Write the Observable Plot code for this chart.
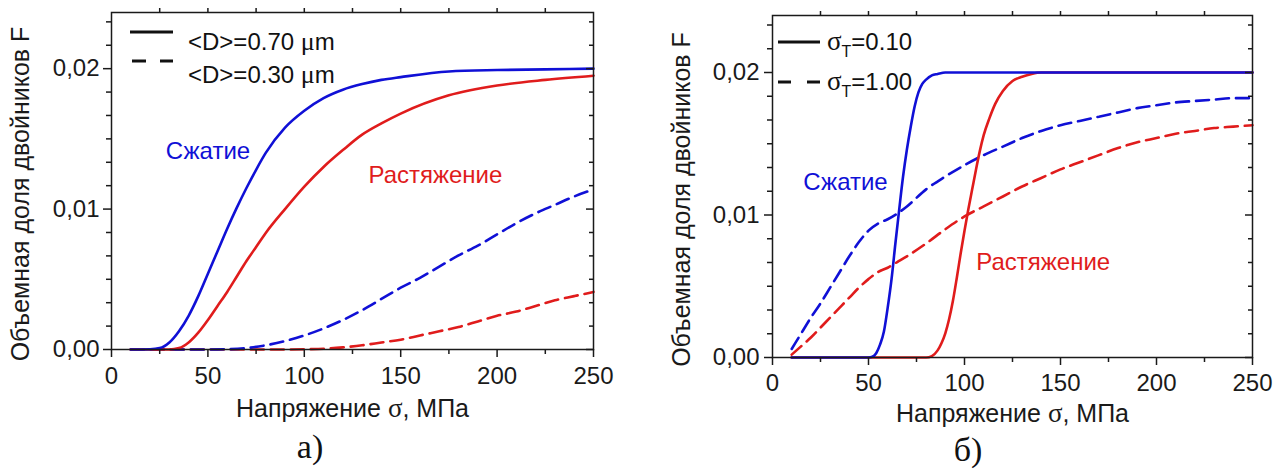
<!DOCTYPE html>
<html><head><meta charset="utf-8">
<script src="https://cdn.jsdelivr.net/npm/d3@7"></script>
<script src="https://cdn.jsdelivr.net/npm/@observablehq/plot@0.6"></script>
<style>
body{margin:0;background:#fff;}
#wrap{position:relative;width:1276px;height:470px;overflow:hidden;background:#fff;}
.panel{position:absolute;top:0;}
.cap{position:absolute;font-family:"Liberation Serif","Times New Roman",serif;font-size:34px;color:#111;transform:translate(-50%,-50%);line-height:1;}
</style></head><body><div id="wrap"></div>
<script>
// ---------- ticks ----------
const xMajor = [0, 50, 100, 150, 200, 250];
const xMinor = [25, 75, 125, 175, 225];
const xTop = [25, 50, 75, 100, 125, 150, 175, 200, 225];
const yMajor = [0, 0.01, 0.02];
const yMinor = [0.001667, 0.003333, 0.005, 0.006667, 0.008333, 0.011667, 0.013333, 0.015, 0.016667, 0.018333, 0.021667, 0.023333];
const xTitleParts = ["Напряжение ", "σ", ", МПа"];
const xTitle = xTitleParts.join("");
const yTitle = "Объемная доля двойников F";
const labelCompression = "Сжатие";
const labelTension = "Растяжение";
const captions = ["а)", "б)"];

// ---------- panel а: <D>=0.70 µm (solid), <D>=0.30 µm (dashed) ----------
const aLegend = ["<D>=0.70 ", "<D>=0.30 "];
const aLegendUnit = "μm";
const aBlueSolidX = [10,20,25,30,35,40,45,50,55,60,65,70,75,80,90,100,110,120,130,140,150,175,200,225,250];
const aBlueSolidY = [0,0.00002,0.0001,0.0005,0.0013,0.0024,0.0038,0.0054,0.0070,0.0086,0.0101,0.0115,0.0128,0.0140,0.0158,0.0170,0.0179,0.0185,0.0189,0.0192,0.0194,0.0198,0.0199,0.01995,0.0200];
const aRedSolidX = [10,30,35,40,45,50,55,60,65,70,75,80,90,100,110,120,130,140,150,175,200,225,250];
const aRedSolidY = [0,0,0.0001,0.0005,0.0012,0.0021,0.0031,0.0041,0.0052,0.0063,0.0073,0.0083,0.0100,0.0116,0.0130,0.0142,0.0153,0.0161,0.0168,0.0181,0.0188,0.0192,0.0195];
const aBlueDashX = [10,50,60,70,80,90,100,110,120,130,140,150,160,170,180,190,200,210,220,230,240,250];
const aBlueDashY = [0,0,0.00002,0.0001,0.0003,0.0006,0.0010,0.0015,0.0021,0.0028,0.0036,0.0044,0.0051,0.0059,0.0067,0.0074,0.0082,0.0090,0.0097,0.0103,0.0109,0.0114];
const aRedDashX = [10,90,100,110,120,130,140,150,160,170,180,190,200,210,220,230,240,250];
const aRedDashY = [0,0,0.00002,0.00005,0.00015,0.0003,0.0005,0.0007,0.0010,0.0013,0.0016,0.0020,0.0024,0.0027,0.0031,0.0035,0.0038,0.0041];
const aAnnotX = [50, 168];
const aAnnotY = [0.01414, 0.01237];

// ---------- panel б: σT=0.10 (solid), σT=1.00 (dashed) ----------
const bLegendVals = ["=0.10", "=1.00"];
const bBlueSolidX = [10,50,52,54,56,58,60,62,64,66,68,70,72,74,76,78,80,83,86,90,150,250];
const bBlueSolidY = [0,0,0.00005,0.0003,0.0009,0.0018,0.0035,0.0055,0.0080,0.0104,0.0127,0.0146,0.0162,0.0176,0.0186,0.0192,0.0195,0.0198,0.0199,0.0200,0.0200,0.0200];
const bRedSolidX = [10,80,83,86,88,90,92,94,96,98,100,102,104,106,108,110,113,116,120,125,130,135,140,200,250];
const bRedSolidY = [0,0,0.0001,0.0005,0.0010,0.0017,0.0027,0.0040,0.0056,0.0073,0.0089,0.0104,0.0118,0.0132,0.0145,0.0156,0.0168,0.0178,0.0187,0.0194,0.0197,0.0199,0.0200,0.0200,0.0200];
const bBlueDashX = [10,15,20,25,30,35,40,45,50,55,60,65,70,80,90,100,110,120,130,140,150,160,170,180,190,200,210,220,230,240,250];
const bBlueDashY = [0.0006,0.0017,0.0028,0.0038,0.0049,0.0060,0.0071,0.0081,0.0089,0.0094,0.0097,0.0101,0.0106,0.0118,0.0127,0.0135,0.0142,0.0148,0.0154,0.0159,0.0163,0.0166,0.0169,0.0172,0.0175,0.0177,0.0179,0.0180,0.0181,0.0182,0.0182];
const bRedDashX = [10,15,20,25,30,35,40,45,50,55,60,65,70,80,90,100,110,120,130,140,150,160,170,180,190,200,210,220,230,240,250];
const bRedDashY = [0.0002,0.0008,0.0014,0.0021,0.0028,0.0035,0.0042,0.0049,0.0055,0.0060,0.0063,0.0067,0.0071,0.0080,0.0090,0.0099,0.0106,0.0113,0.0120,0.0126,0.0132,0.0137,0.0142,0.0147,0.0151,0.0154,0.0157,0.0159,0.0161,0.0162,0.0163];
const bAnnotX = [38, 141];
const bAnnotY = [0.0123, 0.0067];

const BLUE = "#1010d6", RED = "#e01c1c", INK = "#1a1a1a";
const FONT = "Liberation Sans, Arial, sans-serif";
const SERIF = "Liberation Serif, serif";
const DASH = "13,7";

const pts = (xs, ys) => xs.map((x, i) => ({x, y: ys[i]}));
const fmtY = d => d.toFixed(2).replace(".", ",");
const blank = () => "";

function makePanel(cfg) {
  const lines = [
    {d: pts(cfg.redDashX, cfg.redDashY), c: RED, dash: DASH},
    {d: pts(cfg.blueDashX, cfg.blueDashY), c: BLUE, dash: DASH},
    {d: pts(cfg.redSolidX, cfg.redSolidY), c: RED, dash: null},
    {d: pts(cfg.blueSolidX, cfg.blueSolidY), c: BLUE, dash: null}
  ];
  const annot = [
    {x: cfg.annotX[0], y: cfg.annotY[0], t: labelCompression, c: BLUE},
    {x: cfg.annotX[1], y: cfg.annotY[1], t: labelTension, c: RED}
  ];
  const m = cfg.m;
  const svg = Plot.plot({
    width: cfg.width, height: 420,
    marginLeft: m[0], marginRight: m[1], marginTop: m[2], marginBottom: m[3],
    x: {domain: [0, 250]},
    y: {domain: [0, 0.024]},
    color: {type: "identity"},
    style: {fontFamily: FONT, fontSize: "24px", color: INK, background: "transparent", overflow: "visible"},
    marks: [
      ...lines.map(l => Plot.line(l.d, {x: "x", y: "y", stroke: l.c, strokeWidth: 2.6, strokeDasharray: l.dash, curve: "monotone-x"})),
      Plot.text(annot, {x: "x", y: "y", text: "t", fill: "c", fontSize: 24, fontFamily: FONT}),
      Plot.axisX({ticks: xMajor, tickSize: 8, tickPadding: cfg.xPad, tickFormat: d => String(d), strokeWidth: 1.5, label: null, fontSize: 24}),
      Plot.axisX({ticks: xMinor, tickSize: 5, tickFormat: blank, strokeWidth: 1.5, label: null}),
      Plot.axisX({anchor: "top", ticks: xTop, tickSize: 5, tickFormat: blank, strokeWidth: 1.5, label: null}),
      Plot.axisY({ticks: yMajor, tickSize: 8, tickPadding: cfg.yPad, tickFormat: fmtY, strokeWidth: 1.5, label: null, fontSize: 24}),
      Plot.axisY({ticks: yMinor, tickSize: 5, tickFormat: blank, strokeWidth: 1.5, label: null}),
      Plot.axisY({anchor: "right", ticks: yMajor, tickSize: 8, dx: -8, tickFormat: blank, strokeWidth: 1.5, label: null}),
      Plot.axisY({anchor: "right", ticks: yMinor, tickSize: 5, dx: -5, tickFormat: blank, strokeWidth: 1.5, label: null}),
      Plot.frame({stroke: INK, strokeWidth: 1.5}),
      Plot.text([xTitle], {frameAnchor: "bottom", text: d => d, textAnchor: "middle", lineAnchor: "middle", dy: cfg.xTitleDy, fontSize: 25, fill: INK}),
      Plot.text([yTitle], {frameAnchor: "left", text: d => d, textAnchor: "middle", lineAnchor: "middle", rotate: -90, dx: cfg.yTitleDx, dy: cfg.yTitleDy, fontSize: 25, fill: INK})
    ]
  });
  // render σ of the x title in a serif (Symbol-like) face
  d3.select(svg).selectAll("text").filter(function() { return this.textContent === xTitle; })
    .each(function() {
      const t = d3.select(this); t.text(null);
      xTitleParts.forEach((p, i) => {
        const s = t.append("tspan").text(p);
        if (i === 1) s.attr("font-family", SERIF).attr("font-size", 27);
      });
    });
  return svg;
}

const wrap = document.getElementById("wrap");

// panel а
const pa = makePanel({
  width: 640, m: [111, 47, 12, 71], xPad: 9, yPad: 4, xTitleDy: 59, yTitleDx: -91, yTitleDy: 13,
  blueSolidX: aBlueSolidX, blueSolidY: aBlueSolidY, redSolidX: aRedSolidX, redSolidY: aRedSolidY,
  blueDashX: aBlueDashX, blueDashY: aBlueDashY, redDashX: aRedDashX, redDashY: aRedDashY,
  annotX: aAnnotX, annotY: aAnnotY
});
pa.classList.add("panel"); pa.style.left = "0px";
wrap.appendChild(pa);

// panel б
const pb = makePanel({
  width: 636, m: [132, 24, 15, 63], xPad: 8, yPad: 5, xTitleDy: 56, yTitleDx: -91, yTitleDy: 13,
  blueSolidX: bBlueSolidX, blueSolidY: bBlueSolidY, redSolidX: bRedSolidX, redSolidY: bRedSolidY,
  blueDashX: bBlueDashX, blueDashY: bBlueDashY, redDashX: bRedDashX, redDashY: bRedDashY,
  annotX: bAnnotX, annotY: bAnnotY
});
pb.classList.add("panel"); pb.style.left = "640px";
wrap.appendChild(pb);

// ---------- legends ----------
function seg(g, x1, x2, y) {
  g.append("line").attr("x1", x1).attr("x2", x2).attr("y1", y).attr("y2", y)
    .attr("stroke", "#111").attr("stroke-width", 3);
}
{
  const g = d3.select(pa).append("g").attr("font-family", FONT).attr("font-size", 24).attr("fill", "#111").attr("text-anchor", "start");
  seg(g, 130, 173, 32);
  seg(g, 132, 146, 61); seg(g, 160, 173, 61);
  [42, 75].forEach((y, i) => {
    const t = g.append("text").attr("x", 188).attr("y", y).attr("dy", "0.35em");
    t.append("tspan").text(aLegend[i]);
    t.append("tspan").attr("font-family", SERIF).attr("font-size", 26).text(aLegendUnit[0]);
    t.append("tspan").text(aLegendUnit.slice(1));
  });
}
{
  const g = d3.select(pb).append("g").attr("font-family", FONT).attr("font-size", 24).attr("fill", "#111").attr("text-anchor", "start");
  seg(g, 138, 180, 42);
  seg(g, 138, 151, 82); seg(g, 167, 180, 82);
  [42, 82].forEach((y, i) => {
    const t = g.append("text").attr("x", 187).attr("y", y).attr("dy", "0.35em");
    t.append("tspan").attr("font-family", SERIF).attr("font-size", 27).text("σ");
    t.append("tspan").attr("font-size", 16).attr("dy", 7).text("T");
    t.append("tspan").attr("dy", -7).text(bLegendVals[i]);
  });
}

// captions
[[310, 447], [968, 450]].forEach(([x, y], i) => {
  const c = document.createElement("div");
  c.className = "cap"; c.style.left = x + "px"; c.style.top = y + "px";
  c.textContent = captions[i];
  wrap.appendChild(c);
});
</script></body></html>
